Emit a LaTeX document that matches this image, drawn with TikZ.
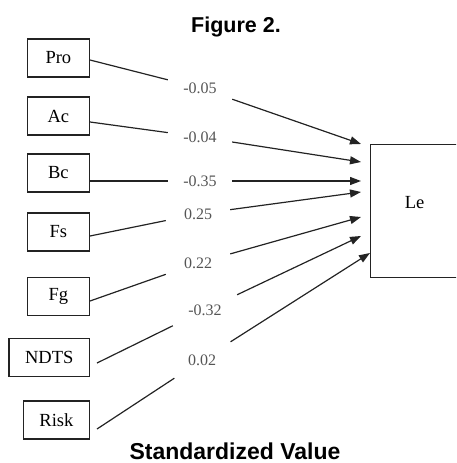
\documentclass[tikz,border=0pt]{standalone}
\usepackage{fontspec}
\setmainfont{Liberation Serif}
\newfontfamily\headfont{Liberation Sans}
\usepackage{xcolor}
\usetikzlibrary{positioning}
\usetikzlibrary{arrows.meta}

\definecolor{edgegray}{RGB}{35,35,35}
\definecolor{wgray}{RGB}{85,85,85}

\tikzset{
  var/.style={draw=edgegray,line width=1.2pt,minimum width=62pt,minimum height=38pt,
    inner xsep=16pt,anchor=east,font=\fontsize{18.5}{20}\selectfont},
  weight/.style={text=wgray,minimum width=64pt,minimum height=36pt,inner sep=0pt,
    font=\fontsize{16}{18}\selectfont},
  link/.style={draw=edgegray,line width=1.2pt},
  effect/.style={link,-{Triangle[length=11pt,width=8pt]}},
  heading/.style={anchor=base,font=\headfont\bfseries\fontsize{21.5}{24}\selectfont}
}

\begin{document}
\begin{tikzpicture}[x=1pt,y=-1pt]

\useasboundingbox (0,0) rectangle (456,463);
\clip (0,0) rectangle (456,463);

\node[heading] (title) at (236,32) {Figure 2.};
\node[heading,font=\headfont\bfseries\fontsize{23}{25}\selectfont] (caption) at (235,459.5) {Standardized Value};

% variables
\node[var] (pro) at (90,58) {Pro};
\node[var] (ac) at (90,116) {Ac};
\node[var] (bc) at (90,173) {Bc};
\node[var] (fs) at (90,232) {Fs};
\node[var] (fg) at (90,296.5) {Fg};
\node[var] (ndts) at (90,357.5) {NDTS};
\node[var] (risk) at (90,420) {Risk};

\node[var,anchor=north west,minimum width=88pt,minimum height=133pt] (le) at (370,144) {\raisebox{17pt}{Le}};

% weights
\node[weight] (w1) at (200,88) {-0.05};
\node[weight] (w2) at (200,137) {-0.04};
\node[weight] (w3) at (200,181) {-0.35};
\node[weight] (w4) at (198,214) {0.25};
\node[weight] (w5) at (198,263) {0.22};
\node[weight] (w6) at (205,310) {-0.32};
\node[weight] (w7) at (202,360) {0.02};

% arrow ends
\coordinate (t1) at (361,144);
\coordinate (t2) at (361,162);
\coordinate (t3) at (361,181);
\coordinate (t4) at (361,192);
\coordinate (t5) at (361,217);
\coordinate (t6) at (361,236);
\coordinate (t7) at (370,253);

\draw[link] ([yshift=-2pt]pro.east) -- (w1);
\draw[effect] (w1) -- (t1);
\draw[link] ([yshift=-6pt]ac.east) -- (w2);
\draw[effect] (w2) -- (t2);
\draw[link] ([yshift=-8pt]bc.east) -- (w3);
\draw[effect] (w3) -- (t3);
\draw[link] ([yshift=-4pt]fs.east) -- (w4);
\draw[effect] (w4) -- (t4);
\draw[link] ([yshift=-4.5pt]fg.east) -- (w5);
\draw[effect] (w5) -- (t5);
\draw[link] ([xshift=7pt,yshift=-5.5pt]ndts.east) -- (w6);
\draw[effect] (w6) -- (t6);
\draw[link] ([xshift=7pt,yshift=-9pt]risk.east) -- (w7);
\draw[effect] (w7) -- (t7);

\end{tikzpicture}
\end{document}
